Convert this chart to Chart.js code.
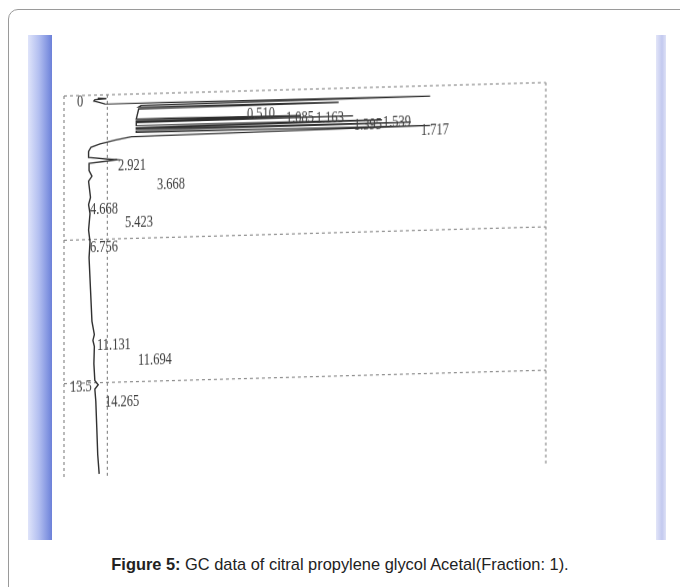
<!DOCTYPE html>
<html>
<head>
<meta charset="utf-8">
<script src="https://cdn.jsdelivr.net/npm/chart.js@4.4.1/dist/chart.umd.min.js"></script>
<style>
  html, body { margin: 0; padding: 0; background: #fff; width: 680px; height: 587px; overflow: hidden; }
  .frame { position: absolute; left: 8px; top: 9px; width: 700px; height: 600px;
           border: 1px solid #9a9a9a; border-radius: 10px; box-sizing: border-box; }
  .stripL { position: absolute; left: 28px; top: 35px; width: 24px; height: 505px;
            background: linear-gradient(to right, #dfe4fa 0%, #b3bff0 45%, #7f92e0 85%, #6c80d8 100%); }
  .stripR { position: absolute; left: 656px; top: 35px; width: 10px; height: 505px;
            background: linear-gradient(to right, #e2e5f8, #c3c9ef 60%, #dde1f6); }
  .plot { position: absolute; left: 54px; top: 86px; width: 502px; height: 401px;
          transform: skewY(-1.6deg); transform-origin: 10px 10px; }
  .caption { position: absolute; left: 0; width: 680px; top: 555px; text-align: center;
             font-family: "Liberation Sans", Arial, sans-serif; font-size: 16.4px; color: #222; }
</style>
</head>
<body>
<div class="frame"></div>
<div class="stripL"></div>
<div class="stripR"></div>
<div class="plot"><canvas id="myChart"></canvas></div>
<div class="caption"><b>Figure 5:</b> GC data of citral propylene glycol Acetal(Fraction: 1).</div>
<script>
// retention time (min) runs down the page, detector signal runs to the right
const traceTime = [
  0.00, 0.03, 0.07, 0.13, 0.20,
  0.28, 0.34, 0.40,
  0.47, 0.51, 0.56,
  1.03, 1.085, 1.12,
  1.14, 1.163, 1.20,
  1.34, 1.395, 1.45,
  1.50, 1.539, 1.60,
  1.66, 1.717, 1.86,
  2.00, 2.15, 2.30, 2.50,
  2.78, 2.921, 3.06,
  3.40, 3.668, 3.90, 4.668, 5.00, 5.423, 6.20, 6.756,
  7.5, 9.0, 10.5, 11.131, 11.4, 11.694, 12.5, 13.3, 13.5, 13.7,
  14.265, 15.5, 16.8, 17.7
]
const traceSignal = [
  0, 1.8, -0.6, -0.8, 0.3,
  1.5, 69, 9,
  8.5, 50, 8.5,
  8, 42, 8,
  8, 53, 8,
  8, 59, 8,
  8, 65, 8,
  8, 69, 7,
  3.5, 0.5, -1.4, -1.9,
  -1.9, 4.0, -1.8,
  -1.8, -1.2, -1.9, -1.5, -1.9, -1.6, -1.9, -1.6,
  -1.8, -1.5, -1.2, -0.7, -1.0, -0.7, -0.8, -0.6, 0.1, -0.6,
  -0.4, -0.2, 0.0, 0.3
]

const peakTimes = [0, 0.510, 1.085, 1.163, 1.395, 1.539, 1.717, 2.921, 3.668, 4.668, 5.423, 6.756, 11.131, 11.694, 13.5, 14.265]
const peakLabels = ['0', '0.510', '1.085', '1.163', '1.395', '1.539', '1.717', '2.921', '3.668', '4.668', '5.423', '6.756', '11.131', '11.694', '13.5', '14.265']

const gridTimes = [-0.15, 6.65, 13.4]
const gridSignals = [-7, 2, 93]

// where the integrator printed each label: [px from plot left, px below the peak time]
const labelLayout = [
  [13, 4], [183, 10], [222, 3], [252, 1.5], [290, 5.5], [319, 0], [357, 5.5],
  [54, 6.5], [93, 11], [26, 12.7], [61, 10.7], [26, 6], [33, 11], [74, 15], [6, 2], [41, 2]
]

const dottedGrid = {
  id: 'dottedGrid',
  beforeDatasetsDraw(chart) {
    const { ctx, chartArea, scales: { x, y } } = chart
    ctx.save()
    ctx.strokeStyle = '#8c8c8c'
    ctx.lineWidth = 1.2
    ctx.setLineDash([3, 3])
    gridTimes.forEach(t => {
      const py = y.getPixelForValue(t)
      ctx.beginPath(); ctx.moveTo(chartArea.left, py); ctx.lineTo(chartArea.right, py); ctx.stroke()
    })
    gridSignals.forEach(s => {
      const px = x.getPixelForValue(s)
      ctx.beginPath(); ctx.moveTo(px, y.getPixelForValue(gridTimes[0])); ctx.lineTo(px, chartArea.bottom); ctx.stroke()
    })
    ctx.restore()
  }
}

const peakLabelPlugin = {
  id: 'peakLabels',
  afterDatasetsDraw(chart) {
    const { ctx, chartArea, scales: { y } } = chart
    ctx.save()
    ctx.fillStyle = '#3c3c3c'
    ctx.font = '16px "Liberation Serif"'
    ctx.textBaseline = 'middle'
    peakTimes.forEach((t, i) => {
      const [dx, dy] = labelLayout[i]
      ctx.save()
      ctx.translate(chartArea.left + dx, y.getPixelForValue(t) + dy)
      ctx.scale(0.78, 1)
      ctx.fillText(peakLabels[i], 0, 0)
      ctx.restore()
    })
    ctx.restore()
  }
}

const ctx = document.getElementById('myChart')

const data = {
  datasets: [{
    data: traceTime.map((t, i) => ({ x: traceSignal[i], y: t })),
    showLine: true,
    borderColor: '#2e2e2e',
    borderWidth: 1.4,
    pointRadius: 0,
    tension: 0,
    clip: false
  }]
}

const config = {
  type: 'scatter',
  data: data,
  options: {
    responsive: true,
    maintainAspectRatio: false,
    animation: false,
    layout: { padding: 10 },
    scales: {
      x: { display: false, min: -7, max: 93 },
      y: { display: false, reverse: true, min: -0.15, max: 17.8 }
    },
    plugins: {
      legend: { display: false },
      tooltip: { enabled: false }
    }
  },
  plugins: [dottedGrid, peakLabelPlugin]
}

const myChart = new Chart(ctx, config)
</script>
</body>
</html>
